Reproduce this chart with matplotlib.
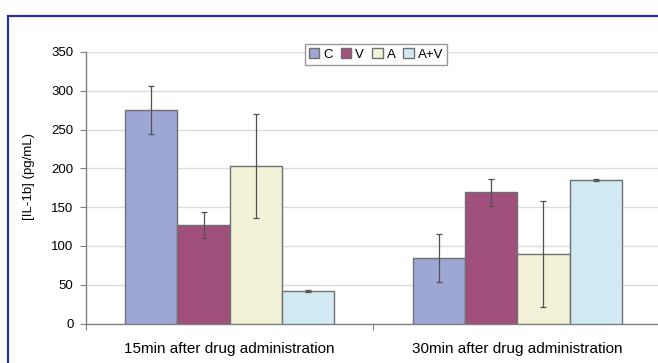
import matplotlib
matplotlib.use('Agg')
import matplotlib.pyplot as plt
import numpy as np
from matplotlib.patches import Rectangle

plt.rcParams['font.family'] = ['Liberation Sans', 'DejaVu Sans']

# data
groups = ['15min after drug administration', '30min after drug administration']
series = ['C', 'V', 'A', 'A+V']
values_c = [275, 85]
values_v = [127, 169]
values_a = [203, 90]
values_av = [42, 185]
err_c = [31, 31]
err_v = [17, 17]
err_a = [67, 68]
err_av = [1, 1]
colors = ['#9ea6d6', '#a0507a', '#f3f2d8', '#d0e9f3']

values = [values_c, values_v, values_a, values_av]
errors = [err_c, err_v, err_a, err_av]

fig = plt.figure(figsize=(6.58, 3.63), dpi=100)
W, H = 658, 363
ax = fig.add_axes([86 / W, 1 - 323.6 / H, 575 / W, 271.6 / H])

x = np.arange(len(groups))
bw = 0.182
for i, (vals, errs) in enumerate(zip(values, errors)):
    pos = x + (i - 1.5) * bw
    ax.bar(pos, vals, bw, color=colors[i], edgecolor='#707070', linewidth=1.0,
           label=series[i], zorder=3)
    ax.errorbar(pos, vals, yerr=errs, fmt='none', ecolor='#505050',
                elinewidth=0.9, capsize=2.2, capthick=0.9, zorder=4)

ax.set_xlim(-0.5, 1.5)
ax.set_ylim(0, 350)
ax.set_yticks(np.arange(0, 351, 50))
ax.tick_params(axis='y', labelsize=9.5, direction='out', length=4, color='#808080', pad=5)
ax.set_xticks([-0.5, 0.5, 1.5])
ax.set_xticklabels([])
ax.tick_params(axis='x', which='major', direction='out', length=4, color='#808080')
ax.set_xticks(x, minor=True)
ax.set_xticklabels(groups, minor=True, fontsize=11)
ax.tick_params(axis='x', which='minor', length=0, pad=13)

ax.grid(axis='y', color='#dcdcdc', linewidth=1.0, zorder=0)
for s in ['top', 'right']:
    ax.spines[s].set_visible(False)
for s in ['left', 'bottom']:
    ax.spines[s].set_color('#808080')
    ax.spines[s].set_linewidth(1.0)

ax.set_ylabel('[IL-1b] (pg/mL)', fontsize=9.5)
ax.yaxis.set_label_coords(-0.088, 0.54)

leg = fig.legend(loc='center', bbox_to_anchor=(376 / W, 1 - 54.5 / H), ncol=4,
                 fontsize=9.5, frameon=True, fancybox=False, handlelength=0.8,
                 handleheight=0.8, handletextpad=0.3, columnspacing=0.6,
                 borderpad=0.3, borderaxespad=0)
leg.get_frame().set_edgecolor('#808080')
leg.get_frame().set_linewidth(1.0)

# blue frame around the chart
fig.patches.append(Rectangle((8 / W, -0.2), 1.2, 1.2 - 16 / H, transform=fig.transFigure,
                             fill=False, edgecolor='#2a2f9e', linewidth=1.6))

fig.savefig('out.png', dpi=100)
